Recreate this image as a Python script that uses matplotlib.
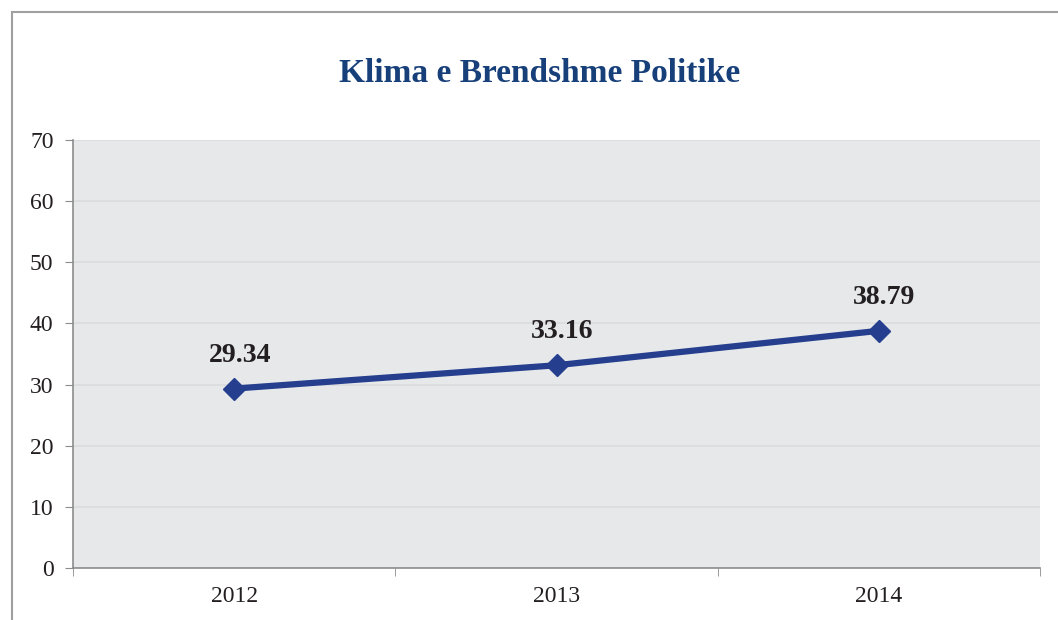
import matplotlib.pyplot as plt
from matplotlib.lines import Line2D

years = ["2012", "2013", "2014"]
values = [29.34, 33.16, 38.79]
yticks = [0, 10, 20, 30, 40, 50, 60, 70]

plt.rcParams["font.family"] = ["Liberation Serif", "DejaVu Serif"]

fig = plt.figure(figsize=(10.58, 6.2), dpi=100)
ax = fig.add_axes([73 / 1058, 1 - 568 / 620, (1040 - 73) / 1058, (568 - 140) / 620])
ax.set_facecolor("#E7E8EA")

x = list(range(len(years)))
ax.plot(x, values, color="#253F8E", lw=4.5, marker="D", markersize=11,
        solid_capstyle="round", zorder=3)
for xi, v in zip(x, values):
    ax.annotate(f"{v:.2f}", (xi, v), xytext=(4, 15), textcoords="offset points",
                ha="center", va="bottom", fontsize=20, fontweight="bold",
                color="#231F20")

ax.set_xlim(-0.5, 2.5)
ax.set_ylim(0, 70)
ax.set_yticks(yticks)
ax.set_xticks(x)
ax.set_xticklabels(years)
ax.set_xticks([-0.5, 0.5, 1.5, 2.5], minor=True)
ax.tick_params(axis="x", which="major", length=0, pad=13, labelsize=17, labelcolor="#231F20")
ax.tick_params(axis="x", which="minor", length=6, color="#8C8C8C", direction="out")
ax.tick_params(axis="y", length=6, color="#8C8C8C", labelsize=17, labelcolor="#231F20", pad=8)
ax.yaxis.grid(True, color="#DADBDD", lw=1.2)
ax.set_axisbelow(True)
for s in ["top", "right"]:
    ax.spines[s].set_visible(False)
for s in ["left", "bottom"]:
    ax.spines[s].set_color("#8C8C8C")
    ax.spines[s].set_linewidth(1.2)

fig.text(540 / 1058, 1 - 73 / 620, "Klima e Brendshme Politike", ha="center", va="center",
         fontsize=24, fontweight="bold", color="#17407A")

# outer frame of the chart
fig.add_artist(Line2D([12 / 1058, 12 / 1058], [0, 1 - 12 / 620], color="#A0A0A0", lw=1.5))
fig.add_artist(Line2D([12 / 1058, 1], [1 - 12 / 620, 1 - 12 / 620], color="#A0A0A0", lw=1.5))

fig.savefig("out.png", dpi=100)
